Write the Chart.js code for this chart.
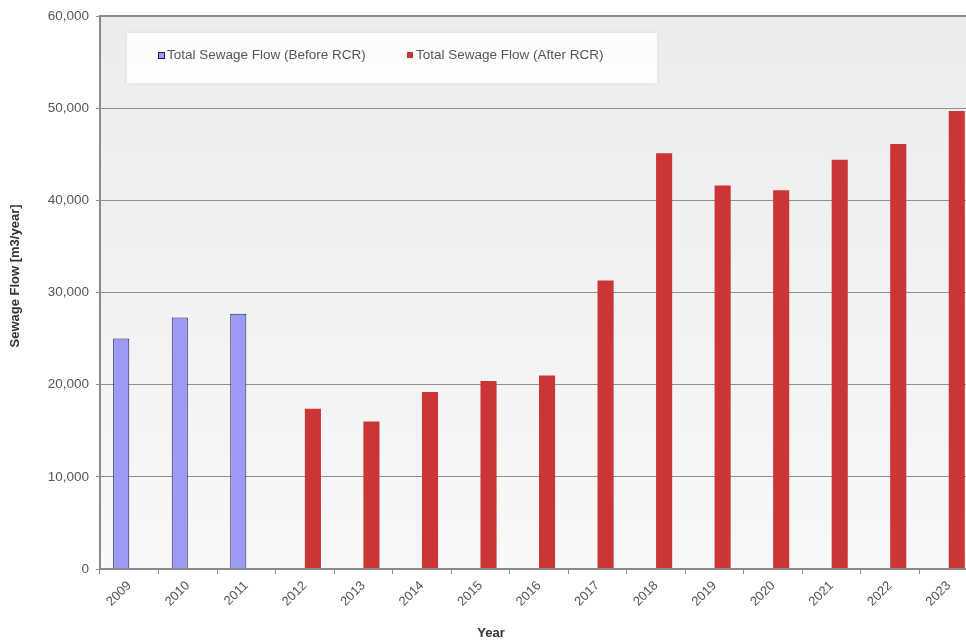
<!DOCTYPE html>
<html>
<head>
<meta charset="utf-8">
<script src="https://cdn.jsdelivr.net/npm/chart.js@4/dist/chart.umd.min.js"></script>
<style>
  html, body { margin: 0; padding: 0; background: #ffffff; overflow: hidden; }
  #wrap { width: 980px; height: 642px; position: relative; }
</style>
</head>
<body>
<div id="wrap"><canvas id="chart"></canvas></div>
<script>
// Years on the category axis
const years = ['2009','2010','2011','2012','2013','2014','2015','2016','2017','2018','2019','2020','2021','2022','2023'];
// Annual sewage flow, m3/year
const beforeRCR = [25000, 27300, 27700, null, null, null, null, null, null, null, null, null, null, null, null];
const afterRCR  = [null, null, null, 17400, 16000, 19200, 20400, 21000, 31300, 45100, 41600, 41100, 44400, 46100, 49700];
const seriesNames = ['Total Sewage Flow (Before RCR)', 'Total Sewage Flow (After RCR)'];
const axisTitles = { x: 'Year', y: 'Sewage Flow [m3/year]' };
const yMax = 60000;
const yStep = 10000;

const FONT = '"Liberation Sans", Arial, sans-serif';

// Plot-area background with a soft vertical gradient, plus the frame
const plotBackground = {
  id: 'plotBackground',
  beforeDraw(chart) {
    const { ctx, chartArea: a } = chart;
    const g = ctx.createLinearGradient(0, a.top, 0, a.bottom);
    g.addColorStop(0, '#ececec');
    g.addColorStop(1, '#f8f8f8');
    ctx.save();
    ctx.fillStyle = g;
    ctx.fillRect(a.left, a.top, a.right - a.left, a.bottom - a.top);
    ctx.restore();
  },
  afterDraw(chart) {
    const { ctx, chartArea: a } = chart;
    ctx.save();
    ctx.strokeStyle = '#8a8a8a';
    ctx.lineWidth = 2;
    ctx.strokeRect(a.left, a.top, a.right - a.left, a.bottom - a.top);

    // axis titles
    ctx.fillStyle = '#333';
    ctx.font = 'bold 13px ' + FONT;
    ctx.textAlign = 'center';
    ctx.textBaseline = 'middle';
    ctx.fillText(axisTitles.x, a.left + 391, 633);
    ctx.translate(15, a.top + 260);
    ctx.rotate(-Math.PI / 2);
    ctx.fillText(axisTitles.y, 0, 0);
    ctx.restore();
  }
};

// Legend drawn inside the plot area in a white box
const innerLegend = {
  id: 'innerLegend',
  afterDatasetsDraw(chart) {
    const { ctx, chartArea: a } = chart;
    const boxX = a.left + 27, boxY = a.top + 17, boxW = 530, boxH = 50;
    ctx.save();
    ctx.fillStyle = 'rgba(255,255,255,0.92)';
    ctx.shadowColor = 'rgba(0,0,0,0.08)';
    ctx.shadowBlur = 4;
    ctx.fillRect(boxX, boxY, boxW, boxH);
    ctx.shadowBlur = 0;
    ctx.font = '13.5px ' + FONT;
    ctx.textBaseline = 'middle';
    const cy = boxY + 22;
    const xs = [a.left + 58, a.left + 307];
    chart.data.datasets.forEach((ds, i) => {
      const x = xs[i];
      ctx.fillStyle = ds.backgroundColor;
      ctx.fillRect(x, cy - 3, 6, 6);
      if (ds.borderWidth) {
        ctx.strokeStyle = ds.borderColor;
        ctx.lineWidth = 1;
        ctx.strokeRect(x + 0.5, cy - 2.5, 6, 6);
      }
      ctx.fillStyle = '#555';
      ctx.fillText(ds.label, x + 9, cy);
    });
    ctx.restore();
  }
};

new Chart(document.getElementById('chart'), {
  type: 'bar',
  data: {
    labels: years,
    datasets: [
      {
        label: seriesNames[0],
        data: beforeRCR,
        backgroundColor: '#9b9bf4',
        borderColor: '#202050',
        borderWidth: 1,
        categoryPercentage: 0.55,
        barPercentage: 1.0
      },
      {
        label: seriesNames[1],
        data: afterRCR,
        backgroundColor: '#cc3535',
        borderColor: '#b83030',
        borderWidth: 0,
        categoryPercentage: 0.55,
        barPercentage: 1.0
      }
    ]
  },
  options: {
    responsive: true,
    maintainAspectRatio: false,
    animation: false,
    layout: { padding: { top: 16, right: 2, bottom: 0, left: 0 } },
    plugins: {
      legend: { display: false },
      tooltip: { enabled: false }
    },
    scales: {
      x: {
        grid: {
          display: true,
          drawOnChartArea: false,
          drawTicks: true,
          tickLength: 5,
          color: '#8a8a8a',
          offset: true
        },
        border: { display: false },
        ticks: {
          color: '#555',
          font: { family: FONT, size: 13 },
          maxRotation: 45,
          minRotation: 45,
          padding: 4
        },
        afterFit(scale) { scale.height = 73; }
      },
      y: {
        min: 0,
        max: yMax,
        ticks: {
          stepSize: yStep,
          color: '#555',
          font: { family: FONT, size: 13.5 },
          padding: 7,
          callback: v => v.toLocaleString('en-US')
        },
        grid: {
          color: '#8f8f8f',
          lineWidth: 1,
          tickLength: 4,
          drawTicks: true
        },
        border: { display: false },
        afterFit(scale) { scale.width = 100; }
      }
    }
  },
  plugins: [plotBackground, innerLegend]
});
</script>
</body>
</html>
